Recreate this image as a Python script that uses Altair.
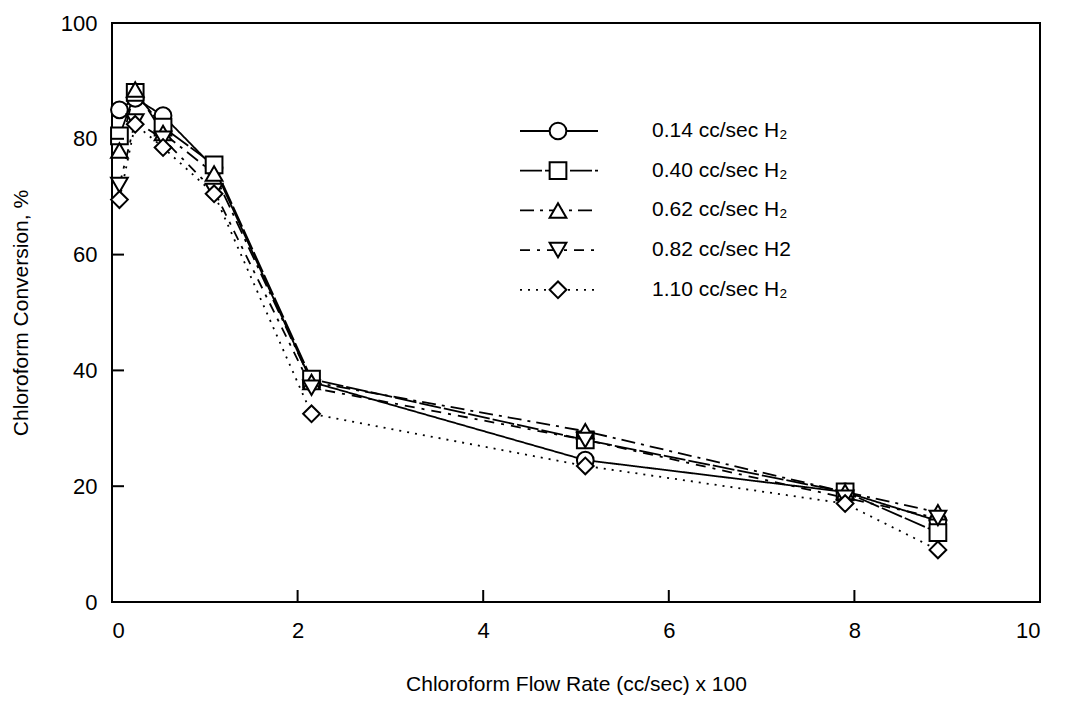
import altair as alt
import pandas as pd

# ---- data ----
flow = [0.08, 0.25, 0.55, 1.1, 2.15, 5.1, 7.9, 8.9]
series = ["0.14 cc/sec H\u2082", "0.40 cc/sec H\u2082", "0.62 cc/sec H\u2082",
          "0.82 cc/sec H2", "1.10 cc/sec H\u2082"]
conv_014 = [85, 87, 84, 75, 38, 24.5, 19, 14]
conv_040 = [80.5, 88, 82, 75.5, 38.5, 28, 19, 12]
conv_062 = [78, 88.5, 81, 74, 38, 29.5, 19, 15.5]
conv_082 = [72, 83, 80, 71, 37, 28, 18, 14.5]
conv_110 = [69.5, 82.5, 78.5, 70.5, 32.5, 23.5, 17, 9]

shapes = ["circle", "square", "triangle-up", "triangle-down", "diamond"]
dashes = [[1, 0], [22, 3], [14, 6, 3, 6], [10, 7, 3, 7], [2, 6]]
y_ticks = [0, 20, 40, 60, 80, 100]
x_ticks = [0, 2, 4, 6, 8, 10]

rows = []
for s, vals in zip(series, [conv_014, conv_040, conv_062, conv_082, conv_110]):
    for i, (f, v) in enumerate(zip(flow, vals)):
        rows.append({"series": s, "flow": f, "conv": v, "order": i})
df = pd.DataFrame(rows)

W, H = 928, 579
FONT = "Liberation Sans"

xs = alt.Scale(domain=[0, 10], nice=False, padding=0, zero=False)
ys = alt.Scale(domain=[0, 100], nice=False, padding=0)
dash_scale = alt.Scale(domain=series, range=dashes)
shape_scale = alt.Scale(domain=series, range=shapes)

base = alt.Chart(df)
lines = base.mark_line(color="black", strokeWidth=1.8).encode(
    x=alt.X("flow:Q", scale=xs,
            axis=alt.Axis(values=x_ticks, format="d",
                          title="Chloroform Flow Rate (cc/sec) x 100")),
    y=alt.Y("conv:Q", scale=ys,
            axis=alt.Axis(values=y_ticks, format="d",
                          title="Chloroform Conversion, %")),
    detail="series:N",
    order="order:Q",
    strokeDash=alt.StrokeDash("series:N", scale=dash_scale, legend=None),
)
points = base.mark_point(filled=True, fill="white", stroke="black",
                         strokeWidth=2, size=280, opacity=1).encode(
    x=alt.X("flow:Q", scale=xs),
    y=alt.Y("conv:Q", scale=ys),
    shape=alt.Shape("series:N", scale=shape_scale, legend=None),
)

# inward tick marks
ytick_df = pd.DataFrame({"v": y_ticks})
xtick_df = pd.DataFrame({"v": x_ticks})
yt = alt.Chart(ytick_df).mark_rule(color="black", strokeWidth=2).encode(
    y=alt.Y("v:Q", scale=ys), x=alt.value(0), x2=alt.value(12))
xt = alt.Chart(xtick_df).mark_rule(color="black", strokeWidth=2).encode(
    x=alt.X("v:Q", scale=xs), y=alt.value(H), y2=alt.value(H - 12))

# custom legend inside the plot
leg_df = pd.DataFrame({"series": series,
                       "ly": [108 + 39.7 * i for i in range(len(series))]})
leg_base = alt.Chart(leg_df)
leg_lines = leg_base.mark_rule(color="black", strokeWidth=1.8).encode(
    x=alt.value(408), x2=alt.value(486),
    y=alt.Y("ly:Q", scale=None),
    strokeDash=alt.StrokeDash("series:N", scale=dash_scale, legend=None),
)
leg_pts = leg_base.mark_point(filled=True, fill="white", stroke="black",
                              strokeWidth=2, size=280, opacity=1).encode(
    x=alt.value(446),
    y=alt.Y("ly:Q", scale=None),
    shape=alt.Shape("series:N", scale=shape_scale, legend=None),
)
leg_txt = leg_base.mark_text(align="left", baseline="middle", font=FONT,
                             fontSize=21, color="black").encode(
    x=alt.value(540),
    y=alt.Y("ly:Q", scale=None),
    text="series:N",
)

chart = alt.layer(lines, points, yt, xt, leg_lines, leg_pts, leg_txt).properties(
    width=W, height=H,
    padding={"left": 10, "top": 12, "right": 20, "bottom": 5},
).configure_view(
    stroke="black", strokeWidth=2
).configure_axis(
    grid=False, domain=False, ticks=False,
    labelFont=FONT, labelFontSize=22, labelColor="black",
    titleFont=FONT, titleFontSize=21, titleFontWeight="normal", titleColor="black",
).configure_axisY(
    labelPadding=15, titlePadding=29,
).configure_axisX(
    labelPadding=18, titlePadding=32,
)

chart.save("out.html", embed_options={"renderer": "svg", "actions": False})
